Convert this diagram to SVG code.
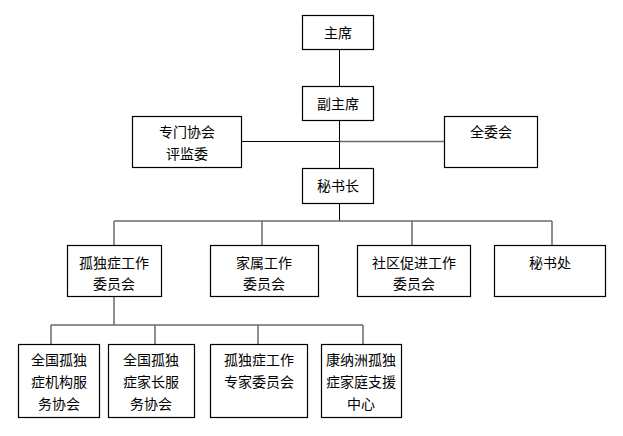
<svg xmlns="http://www.w3.org/2000/svg" width="623" height="436" viewBox="0 0 623 436">
<style>
.b{fill:#fff;stroke:#000;stroke-width:1.2}
.t{font-family:"Noto Sans CJK SC","Noto Sans",sans-serif;font-size:14px;fill:#000;text-anchor:middle;dominant-baseline:central}
.k{stroke:#000;stroke-width:1;fill:none}
.g{stroke:#6a6a6a;stroke-width:1.5;fill:none}
</style>
<rect width="623" height="436" fill="#fff"/>
<g id="connectors">
<line class="k" x1="339.5" y1="49" x2="339.5" y2="168"/>
<line class="k" x1="241" y1="141.5" x2="339.5" y2="141.5"/>
<line class="g" x1="339.5" y1="141.5" x2="444" y2="141.5"/>
<line class="k" x1="339.5" y1="203" x2="339.5" y2="221"/>
<line class="g" x1="114" y1="221" x2="552" y2="221"/>
<line class="g" x1="114" y1="221" x2="114" y2="246"/>
<line class="g" x1="262" y1="221" x2="262" y2="246"/>
<line class="g" x1="412" y1="221" x2="412" y2="246"/>
<line class="g" x1="552" y1="221" x2="552" y2="246"/>
<line class="g" x1="114" y1="297" x2="114" y2="325"/>
<line class="g" x1="51" y1="325" x2="363" y2="325"/>
<line class="g" x1="51" y1="325" x2="51" y2="344"/>
<line class="g" x1="155" y1="325" x2="155" y2="344"/>
<line class="g" x1="258" y1="325" x2="258" y2="344"/>
<line class="g" x1="363" y1="325" x2="363" y2="344"/>
</g>
<g id="n_zhuxi"><rect class="b" x="302.5" y="15.5" width="71" height="34"/><text class="t" x="338" y="32">主席</text></g>
<g id="n_fuzhuxi"><rect class="b" x="302.5" y="86.5" width="71" height="34"/><text class="t" x="338" y="103">副主席</text></g>
<g id="n_zhuanmen"><rect class="b" x="132.5" y="116.5" width="109" height="51"/><text class="t" x="187" y="131">专门协会</text><text class="t" x="187" y="153">评监委</text></g>
<g id="n_quanwei"><rect class="b" x="444.5" y="116.5" width="93" height="51"/><text class="t" x="491" y="131">全委会</text></g>
<g id="n_mishuzhang"><rect class="b" x="302.5" y="168.5" width="71" height="35"/><text class="t" x="338" y="185">秘书长</text></g>
<g id="n_guduzheng"><rect class="b" x="67.5" y="245.5" width="94" height="51"/><text class="t" x="114" y="262">孤独症工作</text><text class="t" x="114" y="283">委员会</text></g>
<g id="n_jiashu"><rect class="b" x="210.5" y="245.5" width="108" height="51"/><text class="t" x="264" y="262">家属工作</text><text class="t" x="264" y="283">委员会</text></g>
<g id="n_shequ"><rect class="b" x="357.5" y="245.5" width="113" height="51"/><text class="t" x="414" y="262">社区促进工作</text><text class="t" x="414" y="283">委员会</text></g>
<g id="n_mishuchu"><rect class="b" x="494.5" y="245.5" width="111" height="51"/><text class="t" x="550" y="262">秘书处</text></g>
<g id="n_jigou"><rect class="b" x="18.5" y="344.5" width="81" height="73"/><text class="t" x="59" y="359">全国孤独</text><text class="t" x="59" y="381">症机构服</text><text class="t" x="59" y="403">务协会</text></g>
<g id="n_jiazhang"><rect class="b" x="108.5" y="344.5" width="86" height="73"/><text class="t" x="151" y="359">全国孤独</text><text class="t" x="151" y="381">症家长服</text><text class="t" x="151" y="403">务协会</text></g>
<g id="n_zhuanjia"><rect class="b" x="210.5" y="344.5" width="97" height="73"/><text class="t" x="259" y="359">孤独症工作</text><text class="t" x="259" y="381">专家委员会</text></g>
<g id="n_kangna"><rect class="b" x="321.5" y="344.5" width="80" height="73"/><text class="t" x="361" y="359">康纳洲孤独</text><text class="t" x="361" y="381">症家庭支援</text><text class="t" x="361" y="403">中心</text></g>
</svg>
